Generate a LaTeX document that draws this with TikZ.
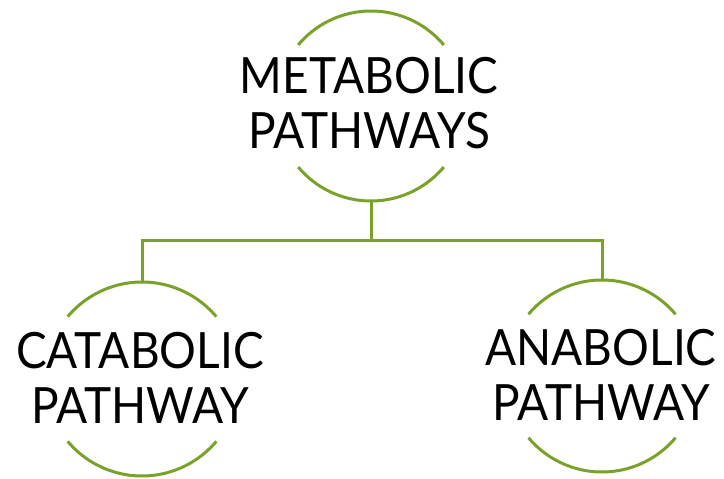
\documentclass[tikz,border=0pt]{standalone}
\usepackage{fontspec}
\setmainfont{Lato}[FakeStretch=0.92]
\definecolor{lgreen}{RGB}{122,162,42}
\begin{document}
\begin{tikzpicture}[x=1pt,y=-1pt,
  arcline/.style={draw=lgreen,line width=3pt},
  conn/.style={draw=lgreen,line width=3pt},
  lbl/.style={align=center,font=\fontsize{50}{55}\selectfont,inner sep=0pt,text=black}]
\useasboundingbox (0,0) rectangle (724,479);
% circle centres
\coordinate (ct) at (371,106);
\coordinate (cl) at (142,379);
\coordinate (cr) at (602,376);
% arcs (y axis points down: negative angles are up)
\draw[arcline] (ct) ++(-40:95) arc[start angle=-40,end angle=-140,radius=95];
\draw[arcline] (ct) ++(40:95) arc[start angle=40,end angle=140,radius=95];
\draw[arcline] (cl) ++(-40:97) arc[start angle=-40,end angle=-140,radius=97];
\draw[arcline] (cl) ++(40:97) arc[start angle=40,end angle=140,radius=97];
\draw[arcline] (cr) ++(-40:96) arc[start angle=-40,end angle=-140,radius=96];
\draw[arcline] (cr) ++(40:96) arc[start angle=40,end angle=140,radius=96];
% anchor coordinates
\coordinate (tb) at (371,201);
\coordinate (lt) at (142,282);
\coordinate (rt) at (602,280);
\coordinate (mid) at (371,240);
\draw[conn] (tb) -- (mid) -| (lt);
\draw[conn] (mid) -| (rt);
% labels
\node[lbl] (top) at (369,103) {METABOLIC\\PATHWAYS};
\node[lbl] (left) at (140,378) {CATABOLIC\\PATHWAY};
\node[lbl] (right) at (601,375) {ANABOLIC\\PATHWAY};
\end{tikzpicture}
\end{document}
